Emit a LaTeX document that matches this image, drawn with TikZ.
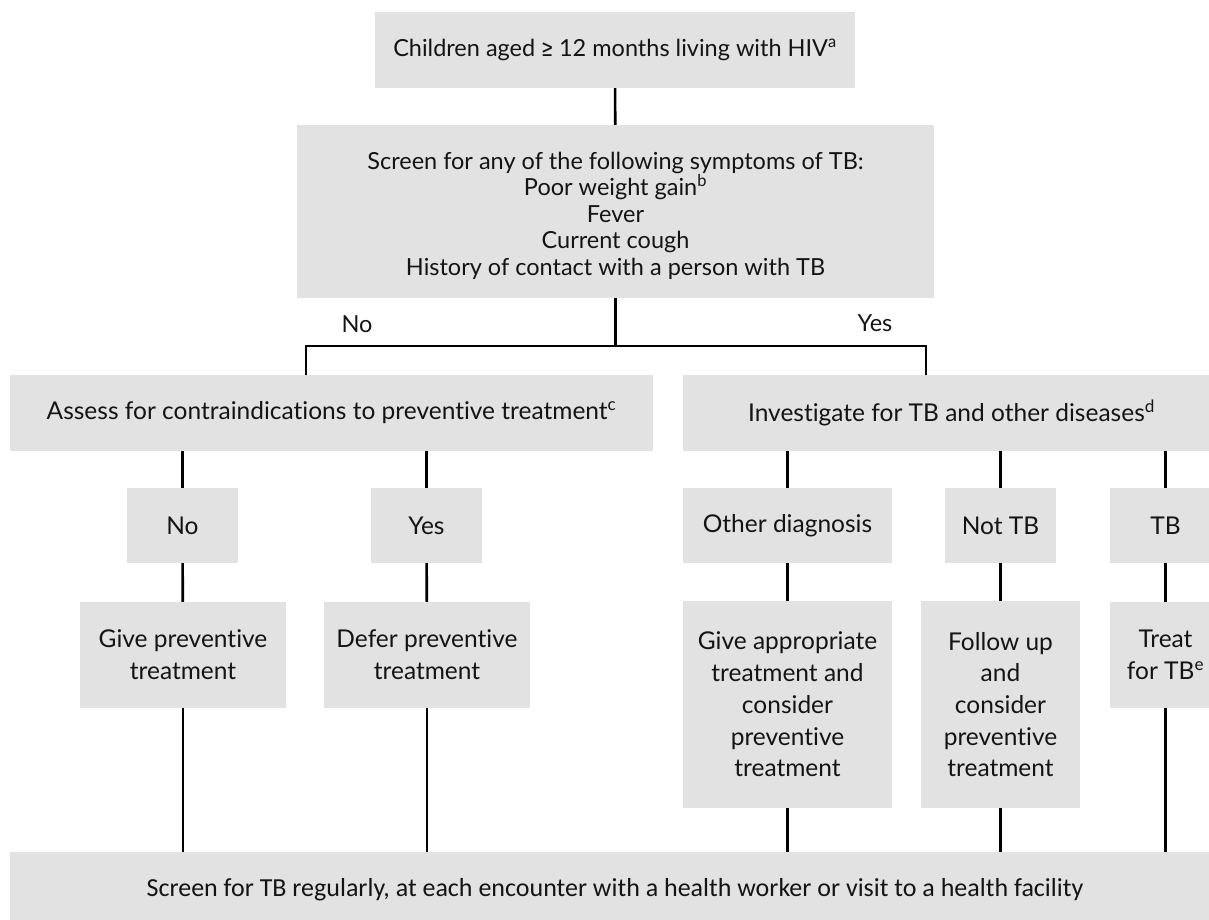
\documentclass[tikz,border=0pt]{standalone}
\usepackage{fontspec}
\setmainfont{Lato}[Ligatures=NoCommon]
\newfontfamily\geqfont{Fira Sans}
\newfontfamily\lastfont{Carlito}
\usepackage{tikz}

\definecolor{boxgray}{RGB}{226,226,226}
\definecolor{ink}{RGB}{20,20,20}

\tikzset{
  box/.style={fill=boxgray, inner sep=0pt, align=center, text=ink,
              font=\fontsize{24.5}{31.7}\selectfont},
  link/.style={draw=black, line width=2.6pt},
  lbl/.style={inner sep=0pt, text=ink, font=\fontsize{23.5}{26}\selectfont}
}

\begin{document}
\begin{tikzpicture}[x=1pt, y=-1pt]
        \useasboundingbox (0,0) rectangle (1209,920);
        \clip (0,0) rectangle (1209,920);

        % top and screening
        \node[box, minimum width=480, minimum height=76, font=\fontsize{23.5}{28}\selectfont] (kids) at (615,50)
            {Children aged {\geqfont ≥} 12 months living with HIV\textsuperscript{a}};
        \node[box, minimum width=637, minimum height=173, font=\fontsize{23.5}{26.5}\selectfont] (scr) at (615.5,211.5)
            {\rule{0pt}{26pt}Screen for any of the following symptoms of TB:\\
             Poor weight gain\textsuperscript{b}\\
             Fever\\
             Current cough\\
             History of contact with a person with TB};

        \node[lbl] (nolbl) at (357,324) {No};
        \node[lbl] (yeslbl) at (875,323) {Yes};

        \node[box, minimum width=643, minimum height=76] (assess) at (331.5,413)
            {Assess for contraindications to preventive treatment\textsuperscript{c}};
        \node[box, minimum width=537, minimum height=76] (inv) at (951.5,413)
            {Investigate for TB and other diseases\textsuperscript{d}};

        % second level
        \node[box, minimum width=111, minimum height=75] (no) at (182.5,525.5) {No};
        \node[box, minimum width=111, minimum height=75] (yes) at (426.5,525.5) {Yes};
        \node[box, minimum width=209, minimum height=75] (other) at (787.5,525.5) {Other diagnosis};
        \node[box, minimum width=111, minimum height=75] (nottb) at (1000.5,525.5) {Not TB};
        \node[box, minimum width=111, minimum height=75] (tb) at (1165.5,525.5) {TB};

        % third level
        \node[box, minimum width=206, minimum height=106] (give) at (183,655)
            {Give preventive\\treatment};
        \node[box, minimum width=206, minimum height=106] (defer) at (427,655)
            {Defer preventive\\treatment};
        \node[box, minimum width=209, minimum height=207] (approp) at (787.5,704.5)
            {Give appropriate\\treatment and\\consider\\preventive\\treatment};
        \node[box, minimum width=159, minimum height=207] (follow) at (1000.5,704.5)
            {Follow up\\and\\consider\\preventive\\treatment};
        \node[box, minimum width=111, minimum height=106] (treat) at (1165.5,655)
            {Treat\\for TB\textsuperscript{e}};

        \node[box, minimum width=1210, minimum height=76, font=\lastfont\fontsize{26}{30}\selectfont] (regular) at (615,890)
            {Screen for TB regularly, at each encounter with a health worker or visit to a health facility};

        % connectors
        \coordinate (brL) at (306,346);
        \coordinate (brR) at (926,346);
        \draw[link] (kids) -- (scr);
        \draw[link] (scr.south) -- (scr.south |- brL);
        \draw[link] (brL |- assess.north) -- (brL) -- (brR) -- (brR |- inv.north);

        \draw[link] (no.north |- assess.south) -- (no.north);
        \draw[link] (yes.north |- assess.south) -- (yes.north);
        \draw[link] (other.north |- inv.south) -- (other.north);
        \draw[link] (nottb.north |- inv.south) -- (nottb.north);
        \draw[link] (tb.north |- inv.south) -- (tb.north);

        \draw[link] (no) -- (give);
        \draw[link] (yes) -- (defer);
        \draw[link] (other) -- (approp);
        \draw[link] (nottb) -- (follow);
        \draw[link] (tb) -- (treat);

        \foreach \n in {give,defer,approp,follow,treat}
          \draw[link] (\n.south) -- (\n.south |- regular.north);

\end{tikzpicture}
\end{document}
